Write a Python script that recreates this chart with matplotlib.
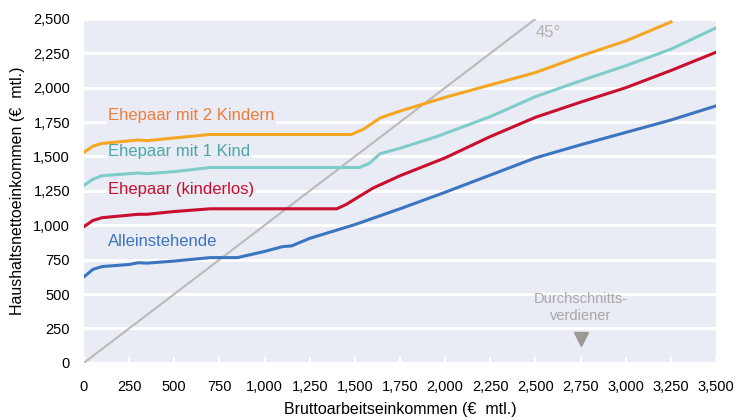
import matplotlib.pyplot as plt

plt.rcParams['font.family'] = ['Liberation Sans', 'DejaVu Sans']

# Bruttoarbeitseinkommen (x) und Haushaltsnettoeinkommen (y), € mtl.
single_x = [0, 50, 100, 250, 300, 350, 500, 700, 850, 1000, 1100, 1150, 1250,
            1500, 1750, 2000, 2250, 2500, 2750, 3000, 3250, 3500]
single_y = [625, 680, 700, 715, 728, 725, 740, 765, 765, 810, 845, 850, 905,
            1005, 1120, 1240, 1365, 1490, 1585, 1675, 1765, 1868]

couple_x = [0, 50, 100, 300, 350, 500, 700, 1400, 1450, 1500, 1600, 1750,
            2000, 2250, 2500, 2750, 3000, 3250, 3500]
couple_y = [990, 1035, 1055, 1080, 1080, 1100, 1120, 1120, 1150, 1190, 1270,
            1360, 1490, 1645, 1785, 1895, 2000, 2125, 2258]

kid1_x = [0, 50, 100, 300, 350, 500, 700, 1525, 1580, 1640, 1750, 1950,
          2250, 2500, 2750, 3000, 3250, 3500]
kid1_y = [1290, 1335, 1360, 1380, 1375, 1390, 1420, 1420, 1450, 1520, 1560,
          1643, 1790, 1935, 2050, 2160, 2280, 2435]

kid2_x = [0, 50, 100, 300, 350, 500, 700, 1480, 1550, 1640, 1750, 2000,
          2250, 2500, 2750, 3000, 3250]
kid2_y = [1530, 1575, 1595, 1620, 1615, 1635, 1660, 1660, 1700, 1780, 1830,
          1930, 2020, 2110, 2230, 2340, 2478]

diag_x = [0, 2500]
diag_y = [0, 2500]

avg_earner = 2750

bg = '#E9EBF5'
c_single, c_couple, c_kid1, c_kid2 = '#3B74BF', '#C8102E', '#7FCDCB', '#F5A623'

fig = plt.figure(figsize=(7.36, 4.2), dpi=100)
ax = fig.add_axes([0.114, 0.136, 0.859, 0.819])
ax.set_facecolor(bg)
for s in ax.spines.values():
    s.set_visible(False)

ax.set_xlim(0, 3500)
ax.set_ylim(0, 2500)
ax.set_xticks(range(0, 3501, 250))
ax.set_yticks(range(0, 2501, 250))
ax.xaxis.set_major_formatter(lambda v, p: f'{int(v):,}')
ax.yaxis.set_major_formatter(lambda v, p: f'{int(v):,}')
ax.tick_params(axis='x', direction='in', color='white', length=4, width=1.5,
               labelsize=10.5, pad=12)
ax.tick_params(axis='y', length=0, labelsize=10.5, pad=10)
ax.grid(axis='y', color='white', linewidth=2.2)
ax.set_axisbelow(True)

ax.plot(diag_x, diag_y, color='#BDBAB6', lw=1.5, zorder=2)
ax.plot(single_x, single_y, color=c_single, lw=2.2, zorder=3)
ax.plot(couple_x, couple_y, color=c_couple, lw=2.2, zorder=3)
ax.plot(kid1_x, kid1_y, color=c_kid1, lw=2.2, zorder=3)
ax.plot(kid2_x, kid2_y, color=c_kid2, lw=2.2, zorder=3)

box = dict(facecolor=bg, edgecolor='none', pad=1)
ax.text(135, 1800, 'Ehepaar mit 2 Kindern', color='#EE7D3B', fontsize=12,
        va='center', bbox=box, zorder=2.5)
ax.text(135, 1535, 'Ehepaar mit 1 Kind', color='#4DA7A7', fontsize=12,
        va='center', bbox=box, zorder=2.5)
ax.text(135, 1258, 'Ehepaar (kinderlos)', color=c_couple, fontsize=12,
        va='center', bbox=box, zorder=2.5)
ax.text(135, 880, 'Alleinstehende', color=c_single, fontsize=12,
        va='center', bbox=box, zorder=2.5)
ax.text(2500, 2400, '45°', color='#B5B2AE', fontsize=12, va='center')

ax.text(avg_earner, 400, 'Durchschnitts-\nverdiener', color='#A8A8A8',
        fontsize=10.5, ha='center', va='center', linespacing=1.3)
ax.plot([avg_earner], [170], marker='v', color='#9D9893', markersize=10,
        zorder=3)

ax.set_xlabel('Bruttoarbeitseinkommen (€  mtl.)', fontsize=11.5, labelpad=6)
ax.set_ylabel('Haushaltsnettoeinkommen (€  mtl.)', fontsize=11.5, labelpad=6)

fig.savefig('out.png', dpi=100)
